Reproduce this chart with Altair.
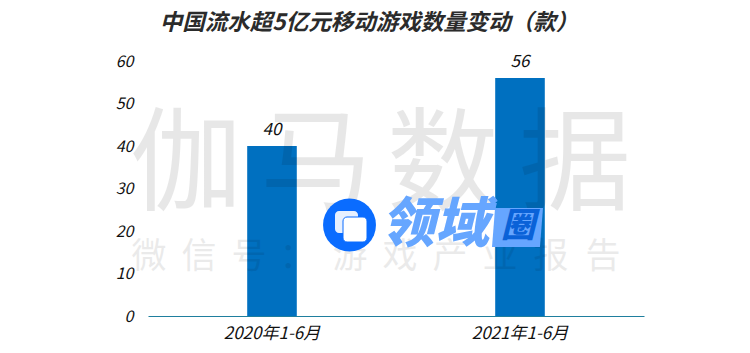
import altair as alt
import pandas as pd

categories = ["2020年1-6月", "2021年1-6月"]
values = [40, 56]
y_ticks = [0, 10, 20, 30, 40, 50, 60]
title_text = "中国流水超5亿元移动游戏数量变动（款）"
CJK = "Noto Sans CJK SC"

W, H = 496, 255
OX, OY = 148, 61  # plot origin in page pixels


def px(x):
    return x - OX


def py(y):
    return y - OY


df = pd.DataFrame({"cat": categories, "val": values})
base = alt.Chart(df)
one = alt.Chart(pd.DataFrame({"a": [0]}))

x = alt.X("cat:N", sort=categories, scale=alt.Scale(paddingInner=0.8, paddingOuter=0.4),
          axis=alt.Axis(title=None, labelAngle=0, labelFont=CJK, labelFontSize=17, labelFontStyle="italic",
                        labelColor="#111111", labelPadding=9, ticks=False, domainColor="#1f7f9e", domainWidth=1))
y = alt.Y("val:Q", scale=alt.Scale(domain=[0, 60]),
          axis=alt.Axis(title=None, values=y_ticks, grid=False, domain=False, ticks=False, labelFont=CJK,
                        labelFontSize=16, labelFontStyle="italic", labelColor="#111111", labelPadding=15))

bars = base.mark_bar(color="#0070c0").encode(x=x, y=y)
labels = base.mark_text(dy=-16, font=CJK, fontSize=17, fontStyle="italic", color="#111111").encode(
    x=alt.X("cat:N", sort=categories), y=alt.Y("val:Q"), text="val:Q")


def text(t, x0, y0, size, color, opacity=1.0, weight="normal", style="normal", font=CJK, align="center"):
    return one.mark_text(text=t, font=font, fontSize=size, color=color, opacity=opacity, fontWeight=weight,
                         fontStyle=style, align=align, baseline="middle").encode(
        x=alt.value(px(x0)), y=alt.value(py(y0)))


title = text(title_text, 369, 23, 22.5, "#2b2b2b", weight="bold", style="italic")

wm_big = [text(c, cx, 168, 112, "#000000", 0.09) for c, cx in
          zip("伽马数据", [186, 316, 443, 575])]
wm_small = [text(c, cx, 257, 35, "#000000", 0.08) for c, cx in
            zip("微信号：游戏产业报告", [149, 199, 249, 297, 350, 400, 450, 500, 551, 603])]

circle = one.mark_point(filled=True, color="#0a6cff", opacity=1, size=2800).encode(
    x=alt.value(px(349.5)), y=alt.value(py(225)))
sq1 = one.mark_rect(color="#ffffff", cornerRadius=4, opacity=0.9).encode(
    x=alt.value(px(335)), x2=alt.value(px(358)), y=alt.value(py(211)), y2=alt.value(py(233)))
sq2 = one.mark_rect(color="#ffffff", cornerRadius=4, stroke="#0a6cff", strokeWidth=1).encode(
    x=alt.value(px(343)), x2=alt.value(px(367)), y=alt.value(py(217)), y2=alt.value(py(242)))
box = one.mark_point(filled=True, color="#66a6ff", opacity=1, size=2601,
                     shape="M-0.88,-0.76L1,-0.76L0.88,0.76L-1,0.76Z").encode(
    x=alt.value(px(517.5)), y=alt.value(py(227.5)))
ling = text("领域", 435, 226, 54, "#66a6ff", weight=900, style="italic")
quan = text("圈", 518, 227, 34, "#0a62d8", weight=900, style="italic")

chart = alt.layer(
    bars, labels, *wm_big, *wm_small, circle, sq1, sq2, ling, box, quan, title
).properties(
    width=W, height=H,
    background="#ffffff",
    padding={"left": OX - 8, "top": OY - 8, "right": 750 - OX - W - 8, "bottom": 353 - OY - H - 8},
    autosize=alt.AutoSizeParams(type="none"),
).configure_view(strokeWidth=0)

chart.save("out.html", embed_options={"renderer": "svg", "actions": False})
